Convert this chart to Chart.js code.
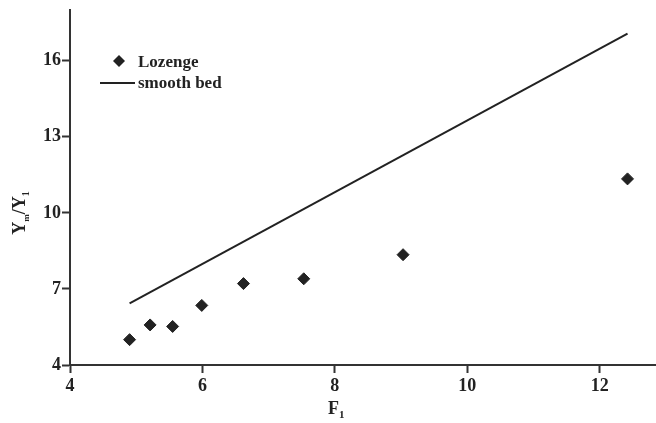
<!DOCTYPE html>
<html>
<head>
<meta charset="utf-8">
<script src="https://cdn.jsdelivr.net/npm/chart.js@4.4.1/dist/chart.umd.min.js"></script>
<style>
    html, body { margin: 0; padding: 0; background: #fff; }
    #wrap { width: 656px; height: 423px; position: relative; }
</style>
</head>
<body>
<div id="wrap"><canvas id="chart" width="656" height="423"></canvas></div>
<script>
    const lozengeX = [4.9, 5.21, 5.55, 5.99, 6.62, 7.53, 9.03, 12.42];
    const lozengeY = [5.0, 5.58, 5.52, 6.35, 7.21, 7.4, 8.35, 11.34];
    const smoothX = [4.9, 12.42];
    const smoothY = [6.43, 17.07];
    const xTicks = [4, 6, 8, 10, 12];
    const yTicks = [4, 7, 10, 13, 16];

    const ink = "#222";
    const font = "'Liberation Serif', 'Times New Roman', serif";

    const toPoints = (xs, ys) => xs.map((x, i) => ({ x, y: ys[i] }));

    // draws legend and the axis titles with their subscripts
    const decor = {
        id: "decor",
        afterDraw(chart) {
            const ctx = chart.ctx;
            ctx.save();
            ctx.fillStyle = ink;
            ctx.strokeStyle = ink;

            // legend
            ctx.beginPath();
            ctx.moveTo(119, 55);
            ctx.lineTo(125, 61);
            ctx.lineTo(119, 67);
            ctx.lineTo(113, 61);
            ctx.closePath();
            ctx.fill();
            ctx.lineWidth = 2;
            ctx.beginPath();
            ctx.moveTo(100, 83);
            ctx.lineTo(135, 83);
            ctx.stroke();
            ctx.font = "bold 17px " + font;
            ctx.textBaseline = "alphabetic";
            ctx.fillText("Lozenge", 138, 67);
            ctx.fillText("smooth bed", 138, 88);

            // x title F1
            ctx.font = "bold 18px " + font;
            ctx.fillText("F", 328, 414);
            ctx.font = "bold 11px " + font;
            ctx.fillText("1", 339, 418);

            // y title Ym/Y1, rotated
            ctx.translate(25, 213);
            ctx.rotate(-Math.PI / 2);
            const parts = [
                ["Y", 18, 0],
                ["m", 9, 4],
                ["/Y", 18, 0],
                ["1", 10, 4],
            ];
            let w = 0;
            parts.forEach(([t, s]) => {
                ctx.font = "bold " + s + "px " + font;
                w += ctx.measureText(t).width;
            });
            let x = -w / 2;
            parts.forEach(([t, s, dy]) => {
                ctx.font = "bold " + s + "px " + font;
                ctx.fillText(t, x, dy);
                x += ctx.measureText(t).width;
            });
            ctx.restore();
        },
    };

    const axisGrid = {
        display: true,
        drawOnChartArea: false,
        drawTicks: true,
        tickLength: 8,
        tickWidth: 2,
        color: "#333",
    };

    new Chart(document.getElementById("chart"), {
        type: "scatter",
        data: {
            datasets: [
                {
                    label: "Lozenge",
                    data: toPoints(lozengeX, lozengeY),
                    pointStyle: "rectRot",
                    pointRadius: 6,
                    pointBackgroundColor: ink,
                    pointBorderColor: ink,
                    pointBorderWidth: 1,
                },
                {
                    label: "smooth bed",
                    type: "line",
                    data: toPoints(smoothX, smoothY),
                    borderColor: ink,
                    borderWidth: 2,
                    pointRadius: 0,
                    fill: false,
                },
            ],
        },
        options: {
            responsive: false,
            animation: false,
            layout: { autoPadding: false, padding: { top: 10, right: 0, left: 0, bottom: 0 } },
            plugins: {
                legend: { display: false },
                tooltip: { enabled: false },
            },
            scales: {
                x: {
                    type: "linear",
                    min: 4,
                    max: 12.85,
                    afterBuildTicks: (s) => { s.ticks = xTicks.map((v) => ({ value: v })); },
                    afterFit: (s) => {
                        s.height = 58;
                        s.paddingRight = 0;
                        s.paddingLeft = 0;
                    },
                    grid: axisGrid,
                    border: { display: true, color: "#333", width: 2 },
                    ticks: {
                        color: ink,
                        padding: 3,
                        maxRotation: 0,
                        font: { family: font, size: 18, weight: "bold" },
                    },
                },
                y: {
                    type: "linear",
                    min: 4,
                    max: 18,
                    afterBuildTicks: (s) => { s.ticks = yTicks.map((v) => ({ value: v })); },
                    afterFit: (s) => {
                        s.width = 70;
                        s.paddingTop = 0;
                        s.paddingBottom = 0;
                    },
                    grid: axisGrid,
                    border: { display: true, color: "#333", width: 2 },
                    ticks: {
                        color: ink,
                        padding: 1,
                        font: { family: font, size: 18, weight: "bold" },
                    },
                },
            },
        },
        plugins: [decor],
    });
</script>
</body>
</html>
